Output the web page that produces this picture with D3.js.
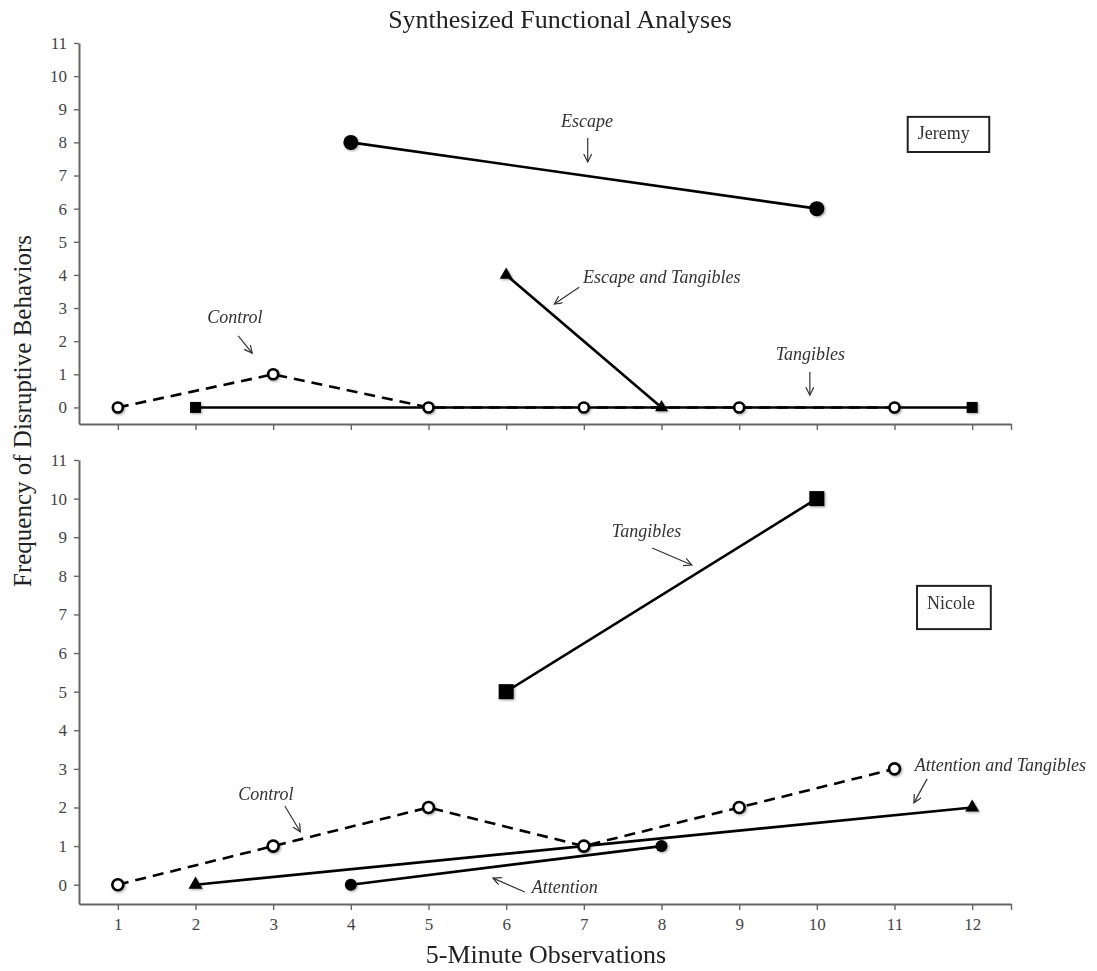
<!DOCTYPE html>
<html>
<head>
<meta charset="utf-8">
<script src="https://cdn.jsdelivr.net/npm/d3@7"></script>
<style>
  body { margin: 0; background: #fff; }
  text { font-family: "Liberation Serif", "Times New Roman", serif; }
</style>
</head>
<body>
<div id="chart"></div>
<script>
// ---- data ----
const xTicks = [1, 2, 3, 4, 5, 6, 7, 8, 9, 10, 11, 12];
const yTicks = [0, 1, 2, 3, 4, 5, 6, 7, 8, 9, 10, 11];

// Jeremy
const jeremyControl = [{obs: 1, freq: 0}, {obs: 3, freq: 1}, {obs: 5, freq: 0}, {obs: 7, freq: 0}, {obs: 9, freq: 0}, {obs: 11, freq: 0}];
const jeremyTangibles = [{obs: 2, freq: 0}, {obs: 12, freq: 0}];
const jeremyEscape = [{obs: 4, freq: 8}, {obs: 10, freq: 6}];
const jeremyEscapeTangibles = [{obs: 6, freq: 4}, {obs: 8, freq: 0}];

// Nicole
const nicoleControl = [{obs: 1, freq: 0}, {obs: 3, freq: 1}, {obs: 5, freq: 2}, {obs: 7, freq: 1}, {obs: 9, freq: 2}, {obs: 11, freq: 3}];
const nicoleTangibles = [{obs: 6, freq: 5}, {obs: 10, freq: 10}];
const nicoleAttention = [{obs: 4, freq: 0}, {obs: 8, freq: 1}];
const nicoleAttentionTangibles = [{obs: 2, freq: 0}, {obs: 12, freq: 2}];

// ---- layout ----
const W = 1097, H = 971;

const svg = d3.select("#chart").append("svg")
    .attr("width", W)
    .attr("height", H)
    .style("background", "#fff");

const defs = svg.append("defs");
defs.append("marker")
    .attr("id", "arrow")
    .attr("markerUnits", "userSpaceOnUse")
    .attr("markerWidth", 12).attr("markerHeight", 12)
    .attr("refX", 8).attr("refY", 4)
    .attr("orient", "auto")
  .append("path")
    .attr("d", "M0,0 L8,4 L0,8")
    .attr("fill", "none")
    .attr("stroke", "#333")
    .attr("stroke-width", 1.2);

const shadow = defs.append("filter").attr("id", "shadow")
    .attr("x", "-50%").attr("y", "-50%").attr("width", "200%").attr("height", "200%");
shadow.append("feDropShadow")
    .attr("dx", 1.2).attr("dy", 1.2).attr("stdDeviation", 1.1)
    .attr("flood-color", "#000").attr("flood-opacity", 0.35);

const x = d3.scaleLinear().domain([0.5, 12.5]).range([79, 1011]);

const panels = [
  {
    name: "Jeremy",
    y: d3.scaleLinear().domain([-0.5, 11]).range([424, 43]),
    labels: false,
    series: [
      {data: jeremyControl, dashed: true, marker: "open", r: 5},
      {data: jeremyTangibles, marker: "square", s: 11},
      {data: jeremyEscape, marker: "dot", r: 7.5},
      {data: jeremyEscapeTangibles, marker: "triangle", s: 13}
    ],
    box: {x0: 11.17, x1: 12.22, y0: 8.77, y1: 7.71, tx: 11.30, ty: 8.10},
    notes: [
      {text: "Escape", anchor: "middle", tx: 7.04, ty: 8.46, a: [7.05, 8.13, 7.05, 7.41]},
      {text: "Escape and Tangibles", anchor: "start", tx: 6.99, ty: 3.75, a: [6.94, 3.63, 6.62, 3.12]},
      {text: "Control", anchor: "start", tx: 2.15, ty: 2.55, a: [2.55, 2.16, 2.73, 1.64]},
      {text: "Tangibles", anchor: "start", tx: 9.47, ty: 1.43, a: [9.91, 1.07, 9.91, 0.37]}
    ]
  },
  {
    name: "Nicole",
    y: d3.scaleLinear().domain([-0.5, 11]).range([904, 460]),
    labels: true,
    series: [
      {data: nicoleControl, dashed: true, marker: "open", r: 5.5},
      {data: nicoleTangibles, marker: "square", s: 15},
      {data: nicoleAttention, marker: "dot", r: 6},
      {data: nicoleAttentionTangibles, marker: "triangle", s: 14}
    ],
    box: {x0: 11.29, x1: 12.24, y0: 7.74, y1: 6.62, tx: 11.42, ty: 7.14},
    notes: [
      {text: "Tangibles", anchor: "start", tx: 7.36, ty: 9.01, a: [7.88, 8.72, 8.39, 8.28]},
      {text: "Control", anchor: "start", tx: 2.55, ty: 2.19, a: [3.15, 2.04, 3.35, 1.37]},
      {text: "Attention", anchor: "start", tx: 6.33, ty: -0.21, a: [6.24, -0.19, 5.83, 0.17]},
      {text: "Attention and Tangibles", anchor: "start", tx: 11.26, ty: 2.95, a: [11.42, 2.74, 11.25, 2.12]}
    ]
  }
];

panels.forEach(function(p) {
  const y = p.y;
  const g = svg.append("g");

  // y axis
  const yAxis = g.append("g")
      .attr("transform", "translate(" + x.range()[0] + ",0)")
      .call(d3.axisLeft(y).tickValues(yTicks).tickSize(5).tickSizeOuter(0).tickPadding(7));

  // x axis
  const xAxis = g.append("g")
      .attr("transform", "translate(0," + y.range()[0] + ")")
      .call(d3.axisBottom(x)
        .tickValues(xTicks.concat([12.5]))
        .tickSize(6).tickSizeOuter(0).tickPadding(8)
        .tickFormat(function(d) { return (p.labels && d !== 12.5) ? d : ""; }));

  [yAxis, xAxis].forEach(function(a) {
    a.select(".domain").attr("stroke", "#666").attr("stroke-width", 2);
    a.selectAll(".tick line").attr("stroke", "#666").attr("stroke-width", 1.4);
    a.selectAll(".tick text")
      .attr("fill", "#444")
      .style("font-size", "17px")
      .style("font-family", "'Liberation Serif', serif");
  });

  const line = d3.line()
      .x(function(d) { return x(d.obs); })
      .y(function(d) { return y(d.freq); });

  // lines
  p.series.forEach(function(s) {
    g.append("path")
      .datum(s.data)
      .attr("d", line)
      .attr("fill", "none")
      .attr("stroke", "#000")
      .attr("stroke-width", 2.6)
      .attr("stroke-dasharray", s.dashed ? "11,7" : null);
  });

  // markers
  p.series.forEach(function(s) {
    const m = g.append("g").attr("filter", "url(#shadow)");
    if (s.marker === "open" || s.marker === "dot") {
      m.selectAll("circle")
        .data(s.data)
        .join("circle")
          .attr("cx", function(d) { return x(d.obs); })
          .attr("cy", function(d) { return y(d.freq); })
          .attr("r", s.r)
          .attr("fill", s.marker === "open" ? "#fff" : "#000")
          .attr("stroke", "#000")
          .attr("stroke-width", s.marker === "open" ? 2.6 : 0);
    } else {
      const sym = s.marker === "square"
        ? d3.symbol().type(d3.symbolSquare).size(s.s * s.s)
        : d3.symbol().type(d3.symbolTriangle).size(Math.sqrt(3) / 4 * s.s * s.s);
      m.selectAll("path")
        .data(s.data)
        .join("path")
          .attr("transform", function(d) { return "translate(" + x(d.obs) + "," + y(d.freq) + ")"; })
          .attr("d", sym)
          .attr("fill", "#000");
    }
  });

  // annotations
  p.notes.forEach(function(n) {
    g.append("text")
      .attr("x", x(n.tx))
      .attr("y", y(n.ty))
      .attr("text-anchor", n.anchor)
      .attr("fill", "#333")
      .style("font-size", "18px")
      .style("font-style", "italic")
      .text(n.text);
    g.append("line")
      .attr("x1", x(n.a[0])).attr("y1", y(n.a[1]))
      .attr("x2", x(n.a[2])).attr("y2", y(n.a[3]))
      .attr("stroke", "#333")
      .attr("stroke-width", 1.2)
      .attr("marker-end", "url(#arrow)");
  });

  // participant box
  g.append("rect")
    .attr("x", x(p.box.x0))
    .attr("y", y(p.box.y0))
    .attr("width", x(p.box.x1) - x(p.box.x0))
    .attr("height", y(p.box.y1) - y(p.box.y0))
    .attr("fill", "#fff")
    .attr("stroke", "#222")
    .attr("stroke-width", 2);
  g.append("text")
    .attr("x", x(p.box.tx))
    .attr("y", y(p.box.ty))
    .attr("fill", "#333")
    .style("font-size", "18px")
    .text(p.name);
});

// titles
svg.append("text")
  .attr("x", 560)
  .attr("y", 28)
  .attr("text-anchor", "middle")
  .attr("fill", "#222")
  .style("font-size", "26px")
  .text("Synthesized Functional Analyses");

svg.append("text")
  .attr("x", 546)
  .attr("y", 963)
  .attr("text-anchor", "middle")
  .attr("fill", "#222")
  .style("font-size", "26px")
  .text("5-Minute Observations");

svg.append("text")
  .attr("transform", "translate(31,411) rotate(-90)")
  .attr("text-anchor", "middle")
  .attr("fill", "#222")
  .style("font-size", "25px")
  .text("Frequency of Disruptive Behaviors");
</script>
</body>
</html>
